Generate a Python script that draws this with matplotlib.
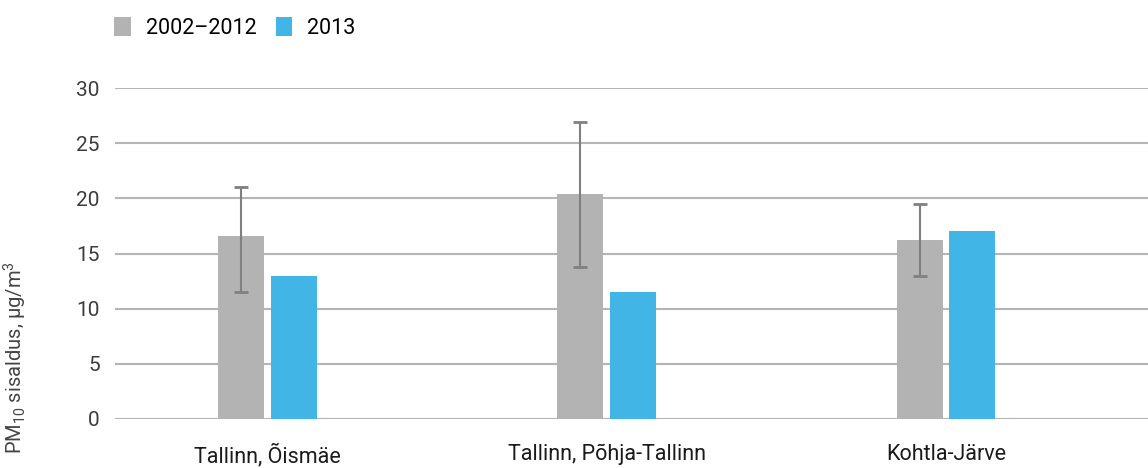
import numpy as np
import matplotlib.pyplot as plt

plt.rcParams['font.family'] = ['Roboto', 'DejaVu Sans']
plt.rcParams['mathtext.fontset'] = 'custom'
plt.rcParams['mathtext.rm'] = 'Roboto'
plt.rcParams['mathtext.it'] = 'Roboto'

categories = ['Tallinn, Õismäe', 'Tallinn, Põhja-Tallinn', 'Kohtla-Järve']
series_names = ['2002–2012', '2013']
avg_2002_2012 = [16.6, 20.4, 16.2]
err_low = [11.5, 13.8, 13.0]
err_high = [21.0, 26.9, 19.5]
val_2013 = [13.0, 11.5, 17.0]
yticks = [0, 5, 10, 15, 20, 25, 30]

grey = '#b3b3b3'
blue = '#41b6e6'

fig = plt.figure(figsize=(11.48, 4.68), dpi=100)
ax = fig.add_axes([115 / 1148, 49 / 468, 1 - 115 / 1148, 331 / 468])

x = np.arange(len(categories))
w = 0.1355
off = 0.078
lo = np.array(avg_2002_2012) - np.array(err_low)
hi = np.array(err_high) - np.array(avg_2002_2012)
ax.bar(x - off, avg_2002_2012, w, color=grey, zorder=2, label=series_names[0])
ax.errorbar(x - off, avg_2002_2012, yerr=[lo, hi], fmt='none', ecolor='#808080',
            elinewidth=1.5, capsize=5, capthick=2, zorder=3)
ax.bar(x + off, val_2013, w, color=blue, zorder=2, label=series_names[1])

ax.set_xlim(-0.448, 2.595)
ax.set_ylim(0, 30)
ax.set_yticks(yticks)
ax.yaxis.grid(True, color='#b5b5b5', linewidth=1.5, zorder=0)
ax.set_axisbelow(True)
for s in ax.spines.values():
    s.set_visible(False)
ax.tick_params(axis='y', length=0, pad=11, labelsize=15, labelcolor='#3c3c3c')
ax.set_xticks(x)
ax.set_xticklabels(categories)
ax.tick_params(axis='x', length=0, pad=18, labelsize=15.5, labelcolor='#1a1a1a')

fig.text(15 / 1148, 1 - 357 / 468, 'PM$_{10}$ sisaldus, µg/m$^3$', rotation=90,
         ha='center', va='center', fontsize=14.5, color='#444444')

fig.legend(loc='upper left', bbox_to_anchor=(95 / 1148, 1.005), ncol=2, frameon=False,
           fontsize=15.5, handlelength=0.75, handleheight=1.0, handletextpad=0.7,
           columnspacing=0.9)

fig.savefig('out.png', dpi=100)
